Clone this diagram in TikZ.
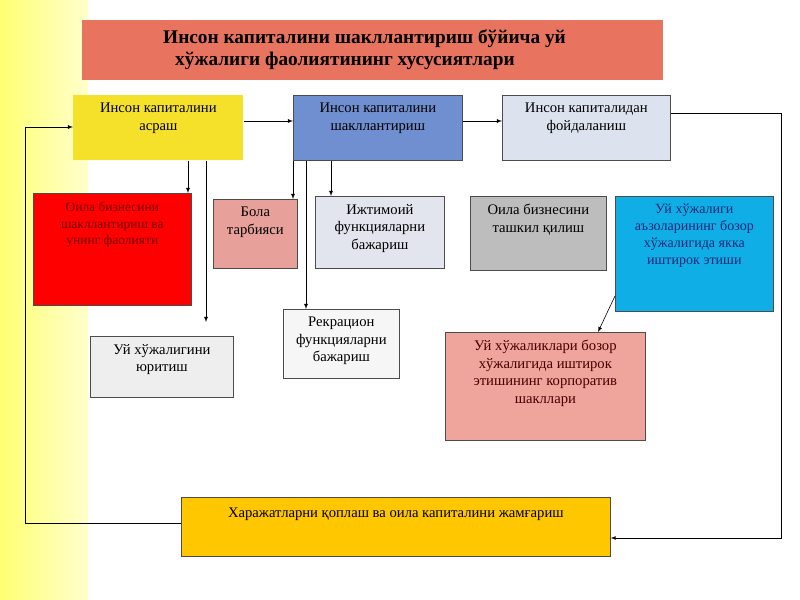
\documentclass[tikz,border=0pt]{standalone}
\usepackage{fontspec}
\setmainfont{Liberation Serif}
\begin{document}
\begin{tikzpicture}[x=0.03cm,y=-0.03cm,
 box/.style={draw=black!70,line width=0.6pt,align=center,anchor=north west,inner sep=0pt},
 lbl/.style={anchor=north,align=center,font=\fontsize{12.5}{15}\selectfont},
 arr/.style={-latex,line width=0.5pt}]
\definecolor{ttl}{HTML}{E8735F}
\useasboundingbox (0,0) rectangle (800,600);
\fill[white] (0,0) rectangle (800,600);
\fill[left color=yellow!55,right color=yellow!20] (0,0) rectangle (88,600);
\node[anchor=north west,fill=ttl,minimum width=581*0.03cm,minimum height=60*0.03cm,inner sep=0pt] (t) at (82,20) {};
\node[anchor=north west,align=left,inner sep=0pt,font=\bfseries\fontsize{16.5}{19.5}\selectfont] at (163,29) {Инсон капиталини шакллантириш бўйича уй\\[-0pt]\hspace*{0.36cm}хўжалиги фаолиятининг хусусиятлари};
\node[box,fill={rgb,255:red,245;green,224;blue,42},draw=none,minimum width=170*0.03cm,minimum height=65*0.03cm] (a) at (73,95) {};
\node[lbl] at ([yshift=-0.12cm]a.north) {Инсон капиталини\\асраш};
\node[box,fill={rgb,255:red,111;green,143;blue,208},minimum width=169*0.03cm,minimum height=65*0.03cm] (b) at (293,95) {};
\node[lbl] at ([yshift=-0.12cm]b.north) {Инсон капиталини\\шакллантириш};
\node[box,fill={rgb,255:red,221;green,227;blue,238},minimum width=168*0.03cm,minimum height=65*0.03cm] (c) at (502,95) {};
\node[lbl] at ([yshift=-0.12cm]c.north) {Инсон капиталидан\\фойдаланиш};
\node[box,fill=red,minimum width=158*0.03cm,minimum height=112*0.03cm] (r) at (33,193) {};
\node[lbl,text={rgb,255:red,120;green,0;blue,0},font=\fontsize{11.5}{14}\selectfont] at ([yshift=-0.15cm]r.north) {Оила бизнесини\\шакллантириш ва\\унинг фаолияти};
\node[box,fill={rgb,255:red,232;green,160;blue,154},minimum width=84*0.03cm,minimum height=69*0.03cm] (d) at (213,199) {};
\node[lbl] at ([yshift=-0.12cm]d.north) {Бола\\тарбияси};
\node[box,fill={rgb,255:red,226;green,228;blue,238},minimum width=129*0.03cm,minimum height=72*0.03cm] (e) at (315,196) {};
\node[lbl] at ([yshift=-0.12cm]e.north) {Ижтимоий\\функцияларни\\бажариш};
\node[box,fill={rgb,255:red,189;green,189;blue,189},minimum width=136*0.03cm,minimum height=74*0.03cm] (f) at (470,196) {};
\node[lbl] at ([yshift=-0.12cm]f.north) {Оила бизнесини\\ташкил қилиш};
\node[box,fill={rgb,255:red,16;green,174;blue,230},minimum width=158*0.03cm,minimum height=115*0.03cm] (g) at (615,196) {};
\node[lbl,text={rgb,255:red,20;green,40;blue,120},font=\fontsize{12}{14.5}\selectfont] at ([yshift=-0.12cm]g.north) {Уй хўжалиги\\аъзоларининг бозор\\хўжалигида якка\\иштирок этиши};
\node[box,fill={rgb,255:red,246;green,246;blue,246},minimum width=116*0.03cm,minimum height=69*0.03cm] (h) at (283,309) {};
\node[lbl] at ([yshift=-0.12cm]h.north) {Рекрацион\\функцияларни\\бажариш};
\node[box,fill={rgb,255:red,238;green,238;blue,238},minimum width=143*0.03cm,minimum height=61*0.03cm] (i) at (90,336) {};
\node[lbl] at ([yshift=-0.12cm]i.north) {Уй хўжалигини\\юритиш};
\node[box,fill={rgb,255:red,239;green,164;blue,156},minimum width=200*0.03cm,minimum height=108*0.03cm] (j) at (445,332) {};
\node[lbl,text={rgb,255:red,70;green,0;blue,0}] at ([yshift=-0.12cm]j.north) {Уй хўжаликлари бозор\\хўжалигида иштирок\\этишининг корпоратив\\шакллари};
\node[box,fill={rgb,255:red,255;green,199;blue,0},minimum width=429*0.03cm,minimum height=59*0.03cm] (k) at (181,497) {};
\node[lbl] at ([yshift=-0.2cm]k.north) {Харажатларни қоплаш ва оила капиталини жамғариш};
% connectors
\draw[arr] (a.east |- 0,121) -- (b.west |- 0,121);
\draw[arr] (b.east |- 0,121) -- (c.west |- 0,121);
\coordinate (c1) at (781,113); \coordinate (c2) at (781,538);
\draw[arr] (c.east |- 0,113) -- (c1) -- (c2) -- (k.east |- c2);
\coordinate (l1) at (25,523); \coordinate (l2) at (25,127);
\draw[arr] (k.west |- l1) -- (l1) -- (l2) -- (a.west |- l2);
\draw[arr] (a.south -| 188,0) -- (r.north -| 188,0);
\draw[arr] (a.south -| 206,0) -- (206,322);
\draw[arr] (b.south -| 293,0) -- (293,199);
\draw[arr] (b.south -| 331,0) -- (e.north -| 331,0);
\draw[arr] (b.south -| 306,0) -- (h.north -| 306,0);
\draw[arr] (g.south west |- 0,296) -- (j.north east -| 598,0);
\end{tikzpicture}
\end{document}
